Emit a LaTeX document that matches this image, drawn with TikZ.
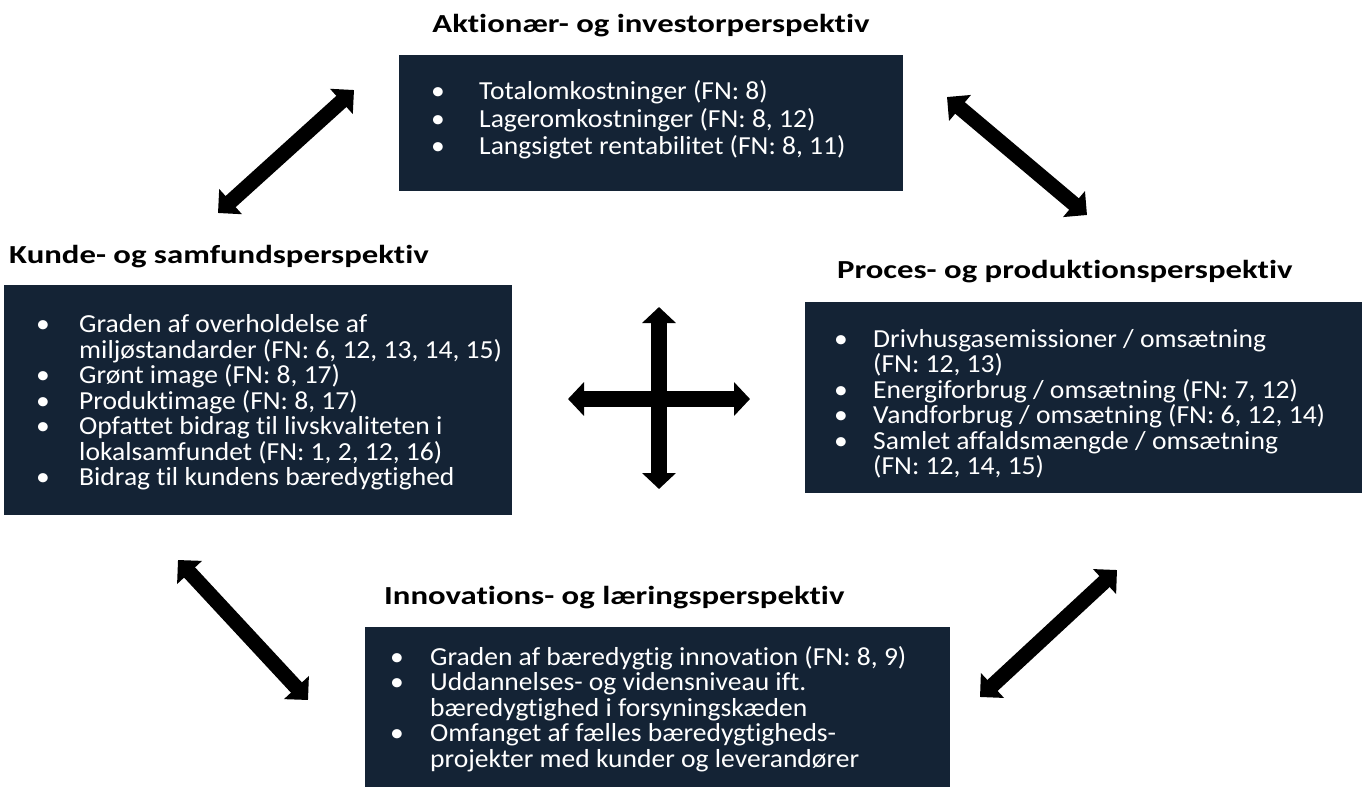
\documentclass[tikz,border=0pt]{standalone}
\usepackage{fontspec}
\setmainfont{Carlito}[FakeStretch=1.06,Ligatures=NoCommon]
\newfontfamily\titlefont{Carlito}[FakeStretch=1.26,Ligatures=NoCommon]
\usetikzlibrary{arrows.meta}
\definecolor{navy}{HTML}{142335}
\newcommand{\bul}[1]{\makebox[#1][l]{\hspace{1pt}•}}
\tikzset{
  box/.style={fill=navy, draw=none, anchor=north west, inner sep=0pt},
  txt/.style={anchor=west, inner sep=0pt, text=white, align=left,
    font=\fontsize{26}{25.5}\selectfont},
  ttl/.style={font=\titlefont\bfseries\fontsize{26}{30}\selectfont, inner sep=0pt},
  dbl/.style={line width=15pt, {Triangle[width=33pt,length=17pt]}-{Triangle[width=33pt,length=17pt]}},
  crs/.style={line width=16pt, {Triangle[width=33pt,length=16pt]}-{Triangle[width=33pt,length=16pt]}}
}
\begin{document}
\begin{tikzpicture}[x=1pt,y=-1pt]
\useasboundingbox (0,0) rectangle (1368,807);
% titles
\node[ttl, anchor=base] (t1) at (651,32) {Aktionær- og investorperspektiv};
\node[ttl, anchor=base west] (t2) at (9,263) {Kunde- og samfundsperspektiv};
\node[ttl, anchor=base west] (t3) at (837,278) {Proces- og produktionsperspektiv};
\node[ttl, anchor=base west] (t4) at (384,604) {Innovations- og læringsperspektiv};
% boxes
\node[box, minimum width=504pt, minimum height=136pt] (b1) at (399,55) {};
\node[txt, font=\fontsize{26}{27.5}\selectfont] (b1t) at ([xshift=31pt,yshift=3pt]b1.west)
{\bul{49pt}Totalomkostninger (FN: 8)\\
 \bul{49pt}Lageromkostninger (FN: 8, 12)\\
 \bul{49pt}Langsigtet rentabilitet (FN: 8, 11)};
\node[box, minimum width=508pt, minimum height=230pt] (b2) at (4,285) {};
\node[txt] (b2t) at ([xshift=31pt,yshift=-2pt]b2.west)
{\bul{44pt}Graden af overholdelse af\\
 \hspace*{44pt}miljøstandarder (FN: 6, 12, 13, 14, 15)\\
 \bul{44pt}Grønt image (FN: 8, 17)\\
 \bul{44pt}Produktimage (FN: 8, 17)\\
 \bul{44pt}Opfattet bidrag til livskvaliteten i\\
 \hspace*{44pt}lokalsamfundet (FN: 1, 2, 12, 16)\\
 \bul{44pt}Bidrag til kundens bæredygtighed};
\node[box, minimum width=557pt, minimum height=191pt] (b3) at (805,302) {};
\node[txt] (b3t) at ([xshift=28pt,yshift=-6pt]b3.west)
{\bul{40pt}Drivhusgasemissioner / omsætning\\
 \hspace*{40pt}(FN: 12, 13)\\
 \bul{40pt}Energiforbrug / omsætning (FN: 7, 12)\\
 \bul{40pt}Vandforbrug / omsætning (FN: 6, 12, 14)\\
 \bul{40pt}Samlet affaldsmængde / omsætning\\
 \hspace*{40pt}(FN: 12, 14, 15)};
\node[box, minimum width=585pt, minimum height=160pt] (b4) at (365,627) {};
\node[txt] (b4t) at ([xshift=24pt,yshift=-2pt]b4.west)
{\bul{41pt}Graden af bæredygtig innovation (FN: 8, 9)\\
 \bul{41pt}Uddannelses- og vidensniveau ift.\\
 \hspace*{41pt}bæredygtighed i forsyningskæden\\
 \bul{41pt}Omfanget af fælles bæredygtigheds-\\
 \hspace*{41pt}projekter med kunder og leverandører};
% arrow ends
\coordinate (a1s) at (218,213); \coordinate (a1e) at (354,90);
\coordinate (a2s) at (947,97);  \coordinate (a2e) at (1087,215);
\coordinate (a3s) at (178,560); \coordinate (a3e) at (308,700);
\coordinate (a4s) at (980,697); \coordinate (a4e) at (1117,570);
\coordinate (cv1) at (659,307); \coordinate (cv2) at (659,489);
\coordinate (ch1) at (568,399); \coordinate (ch2) at (750,399);
\draw[dbl] (a1s) -- (a1e);
\draw[dbl] (a2s) -- (a2e);
\draw[dbl] (a3s) -- (a3e);
\draw[dbl] (a4s) -- (a4e);
\draw[crs] (cv1) -- (cv2);
\draw[crs] (ch1) -- (ch2);
\end{tikzpicture}
\end{document}
